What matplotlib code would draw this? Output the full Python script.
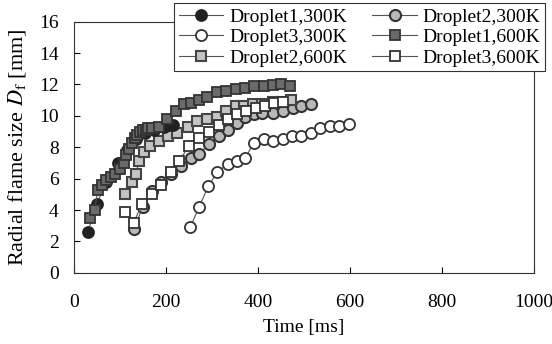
import matplotlib
matplotlib.use("Agg")
import matplotlib.pyplot as plt

plt.rcParams['font.family'] = ['Liberation Serif', 'DejaVu Serif']
plt.rcParams['mathtext.fontset'] = 'stix'

# Droplet1, 300K (black filled circles)
t_d1_300 = [30, 50, 70, 95, 115, 135, 155, 175, 195, 215]
D_d1_300 = [2.6, 4.4, 5.8, 7.0, 7.8, 8.5, 8.9, 9.1, 9.3, 9.4]

# Droplet2, 300K (gray circles)
t_d2_300 = [130, 150, 170, 190, 210, 232, 254, 272, 294, 316, 334, 354,
            372, 392, 410, 432, 454, 476, 494, 516]
D_d2_300 = [2.8, 4.2, 5.2, 5.8, 6.3, 6.8, 7.3, 7.6, 8.2, 8.7, 9.1, 9.57,
            9.9, 10.1, 10.2, 10.2, 10.3, 10.5, 10.6, 10.75]

# Droplet3, 300K (open circles)
t_d3_300 = [253, 272, 292, 312, 334, 354, 372, 392, 413, 432, 454, 474,
            494, 515, 536, 556, 576, 598]
D_d3_300 = [2.9, 4.2, 5.5, 6.45, 6.9, 7.1, 7.3, 8.3, 8.5, 8.4, 8.5, 8.7,
            8.7, 8.9, 9.2, 9.35, 9.35, 9.5]

# Droplet1, 600K (dark squares)
t_d1_600 = [35, 45, 52, 60, 70, 80, 90, 100, 108, 114, 120, 126, 132, 138,
            144, 150, 156, 162, 170, 185, 203, 222, 240, 255, 272, 290, 312,
            330, 352, 373, 392, 414, 432, 450, 470]
D_d1_600 = [3.5, 4.0, 5.3, 5.6, 5.9, 6.1, 6.3, 6.6, 7.0, 7.5, 7.9, 8.3, 8.6,
            8.8, 9.0, 9.1, 9.1, 9.2, 9.2, 9.3, 9.8, 10.3, 10.75, 10.8, 11.0,
            11.2, 11.5, 11.6, 11.7, 11.8, 11.87, 11.9, 11.95, 12.0, 11.9]

# Droplet2, 600K (gray-centre squares)
t_d2_600 = [112, 127, 135, 141, 152, 165, 185, 205, 225, 247, 268, 290, 312,
            330, 352, 370, 389, 410, 432, 450, 472]
D_d2_600 = [5.0, 5.8, 6.3, 7.1, 7.7, 8.1, 8.4, 8.7, 8.9, 9.3, 9.7, 9.8, 9.9,
            10.3, 10.6, 10.6, 10.75, 10.75, 10.9, 10.9, 11.0]

# Droplet3, 600K (open squares)
t_d3_600 = [112, 130, 148, 170, 190, 210, 228, 250, 272, 294, 315, 335, 355,
            375, 395, 415, 435, 455]
D_d3_600 = [3.9, 3.2, 4.4, 5.0, 5.6, 6.45, 7.1, 8.06, 8.6, 9.0, 9.4, 9.8,
            10.1, 10.3, 10.5, 10.6, 10.8, 10.9]

fig = plt.figure(figsize=(5.52, 3.44), dpi=100)
ax = fig.add_axes([0.134, 0.207, 0.833, 0.730])

ms = 8
lc = '#555555'
ax.plot(t_d1_300, D_d1_300, '-', color=lc, lw=0.8, marker='o', ms=ms,
        mfc='#222222', mec='#222222', mew=1.2, label='Droplet1,300K', zorder=4)
ax.plot(t_d2_300, D_d2_300, '-', color=lc, lw=0.8, marker='o', ms=ms,
        mfc='#b8b8b8', mec='#333333', mew=1.5, label='Droplet2,300K', zorder=3)
ax.plot(t_d3_300, D_d3_300, '-', color=lc, lw=0.8, marker='o', ms=ms,
        mfc='white', mec='#333333', mew=1.3, label='Droplet3,300K', zorder=3)
ax.plot(t_d1_600, D_d1_600, '-', color=lc, lw=0.8, marker='s', ms=ms - 1,
        mfc='#6a6a6a', mec='#333333', mew=1.3, label='Droplet1,600K', zorder=5)
ax.plot(t_d2_600, D_d2_600, '-', color=lc, lw=0.8, marker='s', ms=ms - 1,
        mfc='#c4c4c4', mec='#444444', mew=1.5, label='Droplet2,600K', zorder=3)
ax.plot(t_d3_600, D_d3_600, '-', color=lc, lw=0.8, marker='s', ms=ms - 1,
        mfc='white', mec='#333333', mew=1.3, label='Droplet3,600K', zorder=3)

ax.set_xlim(0, 1000)
ax.set_ylim(0, 16)
ax.set_xticks(range(0, 1001, 200))
ax.set_yticks(range(0, 17, 2))
ax.tick_params(direction='in', length=4, width=0.8, labelsize=14,
               top=False, right=False)
ax.tick_params(axis='x', pad=15)
ax.tick_params(axis='y', pad=11)
for s in ax.spines.values():
    s.set_linewidth(0.8)
    s.set_color('#333333')

ax.set_xlabel('Time [ms]', fontsize=14, labelpad=6)
ax.set_ylabel('Radial flame size $D_\\mathrm{f}$ [mm]', fontsize=16, labelpad=8)

# legend filled column-wise: col 1 then col 2
h, l = ax.get_legend_handles_labels()
order = [0, 2, 4, 1, 3, 5]
leg = fig.legend([h[i] for i in order], [l[i] for i in order], ncol=2,
                 loc='upper right', bbox_to_anchor=(0.988, 0.991),
                 fontsize=14, frameon=True, fancybox=False, framealpha=1,
                 edgecolor='#333333', borderpad=0.25, labelspacing=0.15,
                 handlelength=2.3, handletextpad=0.3, columnspacing=1.3,
                 borderaxespad=0)
leg.get_frame().set_linewidth(0.8)

fig.savefig('out.png', dpi=100)
